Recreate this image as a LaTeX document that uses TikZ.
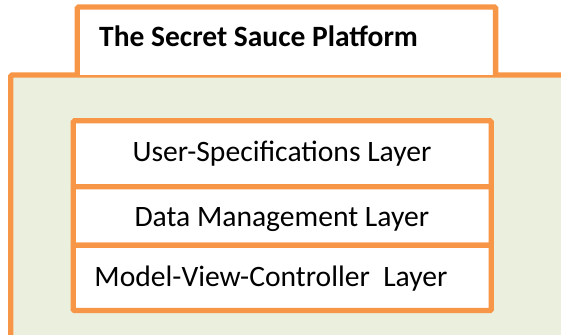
\documentclass[tikz,border=0pt]{standalone}
\usepackage{fontspec}
\setmainfont{Carlito}
\definecolor{sauceorange}{HTML}{F79646}
\definecolor{saucegreen}{HTML}{EBF0DE}
\begin{document}
\begin{tikzpicture}[x=1pt,y=-1pt,
  frame/.style={draw=sauceorange, line width=5.3pt, rounded corners=1.2pt},
  label/.style={inner sep=0pt, anchor=base, font=\fontsize{29.6}{34}\selectfont},
  titlelabel/.style={inner sep=0pt, anchor=base west, font=\bfseries\fontsize{29.5}{34}\selectfont}]
\useasboundingbox (0,0) rectangle (561,334);
\begin{scope}
\clip (0,0) rectangle (561,334);
\draw[frame, fill=saucegreen] (10.8,75) rectangle (620,400);
\end{scope}
\coordinate (platform) at (10.8,75);
\draw[frame, fill=white] (77.3,75) -- (77.3,7) -- (495.6,7) -- (495.6,75);
\draw[frame, fill=white] (73.3,120.8) rectangle (491.2,186.7);
\draw[frame, fill=white] (73.3,186.7) rectangle (491.2,245.3);
\draw[frame, fill=white] (73.3,245.3) rectangle (491.2,310.5);
\node[titlelabel] (title) at (99,46.7) {The Secret Sauce Platform};
\node[label] (usl) at (282,161.7) {User-Specifications Layer};
\node[label] (dml) at (281.8,226.7) {Data Management Layer};
\node[label] (mvc) at (271,286.7) {Model-View-Controller\ \ Layer};
\end{tikzpicture}
\end{document}
